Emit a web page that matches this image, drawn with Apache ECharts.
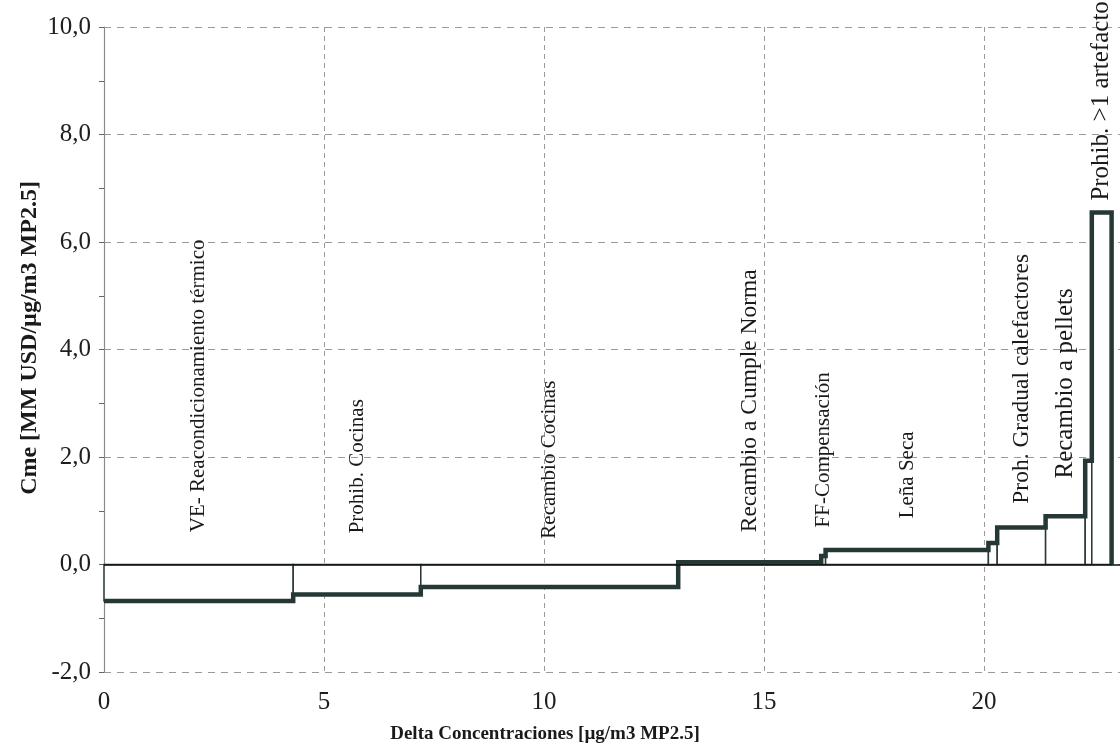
<!DOCTYPE html>
<html lang="es">
<head>
    <meta charset="UTF-8">
    <title>Costo marginal por medida</title>
    <style>
        html, body { margin: 0; padding: 0; background: #ffffff; }
        #chart { width: 1120px; height: 748px; }
    </style>
    <script src="https://cdn.jsdelivr.net/npm/echarts@6/dist/echarts.min.js"></script>
</head>
<body>
    <div id="chart"></div>
    <script>
        // medidas, en orden de costo
        var medidas = [
            'VE- Reacondicionamiento térmico',
            'Prohib. Cocinas',
            'Recambio Cocinas',
            'Recambio a Cumple Norma',
            'FF-Compensación',
            'Leña Seca',
            '',
            'Proh. Gradual calefactores',
            'Recambio a pellets',
            '',
            'Prohib. >1 artefacto'
        ];
        // límites acumulados de reducción [µg/m3]
        var limites = [0, 4.3, 7.2, 13.05, 16.3, 16.4, 20.1, 20.3, 21.4, 22.3, 22.45, 22.9];
        // costo marginal [MM USD/µg/m3]
        var costos = [-0.68, -0.56, -0.42, 0.04, 0.16, 0.27, 0.40, 0.69, 0.90, 1.93, 6.55];
        // altura (en Cme) donde empieza cada rótulo
        var rotuloEn = [0.6, 0.58, 0.48, 0.6, 0.69, 0.86, 0, 1.13, 1.6, 0, 6.77];

        var xTicks = [0, 5, 10, 15, 20, 25];
        var yTicks = [-2, 0, 2, 4, 6, 8, 10];

        // tamaño de letra de cada rótulo (estilo, no datos)
        var letraRotulo = [21, 21, 21, 23.5, 21, 21, 21, 23.5, 25, 21, 25];

        var colorLinea = '#263835';
        var fuente = '"Liberation Serif", "DejaVu Serif", serif';

        // barras: [desde, hasta, costo, indice]
        var barras = costos.map(function (c, i) {
            return [limites[i], limites[i + 1], c, i];
        });

        // curva escalonada gruesa
        var escalera = [];
        costos.forEach(function (c, i) {
            escalera.push([limites[i], c]);
            escalera.push([limites[i + 1], c]);
        });
        escalera.push([limites[limites.length - 1], 0]);

        function formato(v) {
            return v.toFixed(1).replace('.', ',');
        }

        var chart = echarts.init(document.getElementById('chart'));

        var option = {
            backgroundColor: '#ffffff',
            animation: false,
            grid: {
                left: 104, top: 27, height: 645, width: 1100,
                containLabel: false,
                outerBoundsMode: 'none'
            },
            xAxis: {
                type: 'value',
                min: xTicks[0],
                max: xTicks[xTicks.length - 1],
                interval: 5,
                axisLine: { show: false },
                axisTick: { show: false },
                axisLabel: {
                    margin: 18,
                    fontFamily: fuente,
                    fontSize: 25,
                    color: '#1e1e1e'
                },
                splitLine: {
                    show: true,
                    lineStyle: { color: '#9a9a9a', type: [5, 4], width: 1 }
                }
            },
            yAxis: {
                type: 'value',
                min: yTicks[0],
                max: yTicks[yTicks.length - 1],
                interval: 2,
                axisLine: { show: true, onZero: false, lineStyle: { color: '#8a8a8a', width: 1.2 } },
                axisTick: { show: true, length: 5, lineStyle: { color: '#666' } },
                minorTick: { show: true, splitNumber: 2, length: 5, lineStyle: { color: '#666' } },
                axisLabel: {
                    margin: 13,
                    fontFamily: fuente,
                    fontSize: 25,
                    color: '#1e1e1e',
                    formatter: formato
                },
                splitLine: {
                    show: true,
                    lineStyle: { color: '#9a9a9a', type: [7, 6], width: 1 }
                }
            },
            graphic: [
                {
                    type: 'text',
                    x: 545,
                    y: 734,
                    style: {
                        text: 'Delta Concentraciones [µg/m3 MP2.5]',
                        font: 'bold 19px ' + fuente,
                        fill: '#1a1a1a',
                        textAlign: 'center',
                        textVerticalAlign: 'middle'
                    }
                },
                {
                    type: 'text',
                    x: 30,
                    y: 338,
                    rotation: Math.PI / 2,
                    style: {
                        text: 'Cme [MM USD/µg/m3 MP2.5]',
                        font: 'bold 24px ' + fuente,
                        fill: '#1a1a1a',
                        textAlign: 'center',
                        textVerticalAlign: 'middle'
                    }
                }
            ],
            series: [
                {
                    type: 'custom',
                    data: barras,
                    z: 2,
                    renderItem: function (params, api) {
                        var x0 = api.value(0), x1 = api.value(1), c = api.value(2);
                        var i = api.value(3);
                        var p0 = api.coord([x0, c]);
                        var p1 = api.coord([x1, 0]);
                        var hijos = [{
                            type: 'rect',
                            shape: {
                                x: Math.min(p0[0], p1[0]),
                                y: Math.min(p0[1], p1[1]),
                                width: Math.abs(p1[0] - p0[0]),
                                height: Math.abs(p1[1] - p0[1])
                            },
                            style: { fill: '#ffffff', stroke: colorLinea, lineWidth: 1.5 }
                        }];
                        var nombre = medidas[i];
                        if (nombre) {
                            var pt = api.coord([(x0 + x1) / 2, rotuloEn[i]]);
                            hijos.push({
                                type: 'text',
                                x: pt[0],
                                y: pt[1],
                                rotation: Math.PI / 2,
                                style: {
                                    text: nombre,
                                    font: letraRotulo[i] + 'px ' + fuente,
                                    fill: '#1a1a1a',
                                    textAlign: 'left',
                                    textVerticalAlign: 'middle'
                                }
                            });
                        }
                        return { type: 'group', children: hijos };
                    }
                },
                {
                    type: 'line',
                    data: escalera,
                    z: 3,
                    symbol: 'none',
                    lineStyle: { color: colorLinea, width: 4.5, join: 'miter' },
                    markLine: {
                        silent: true,
                        symbol: 'none',
                        label: { show: false },
                        lineStyle: { color: '#111', type: 'solid', width: 1.6 },
                        data: [{ yAxis: 0 }]
                    }
                }
            ]
        };

        chart.setOption(option);
    </script>
</body>
</html>
